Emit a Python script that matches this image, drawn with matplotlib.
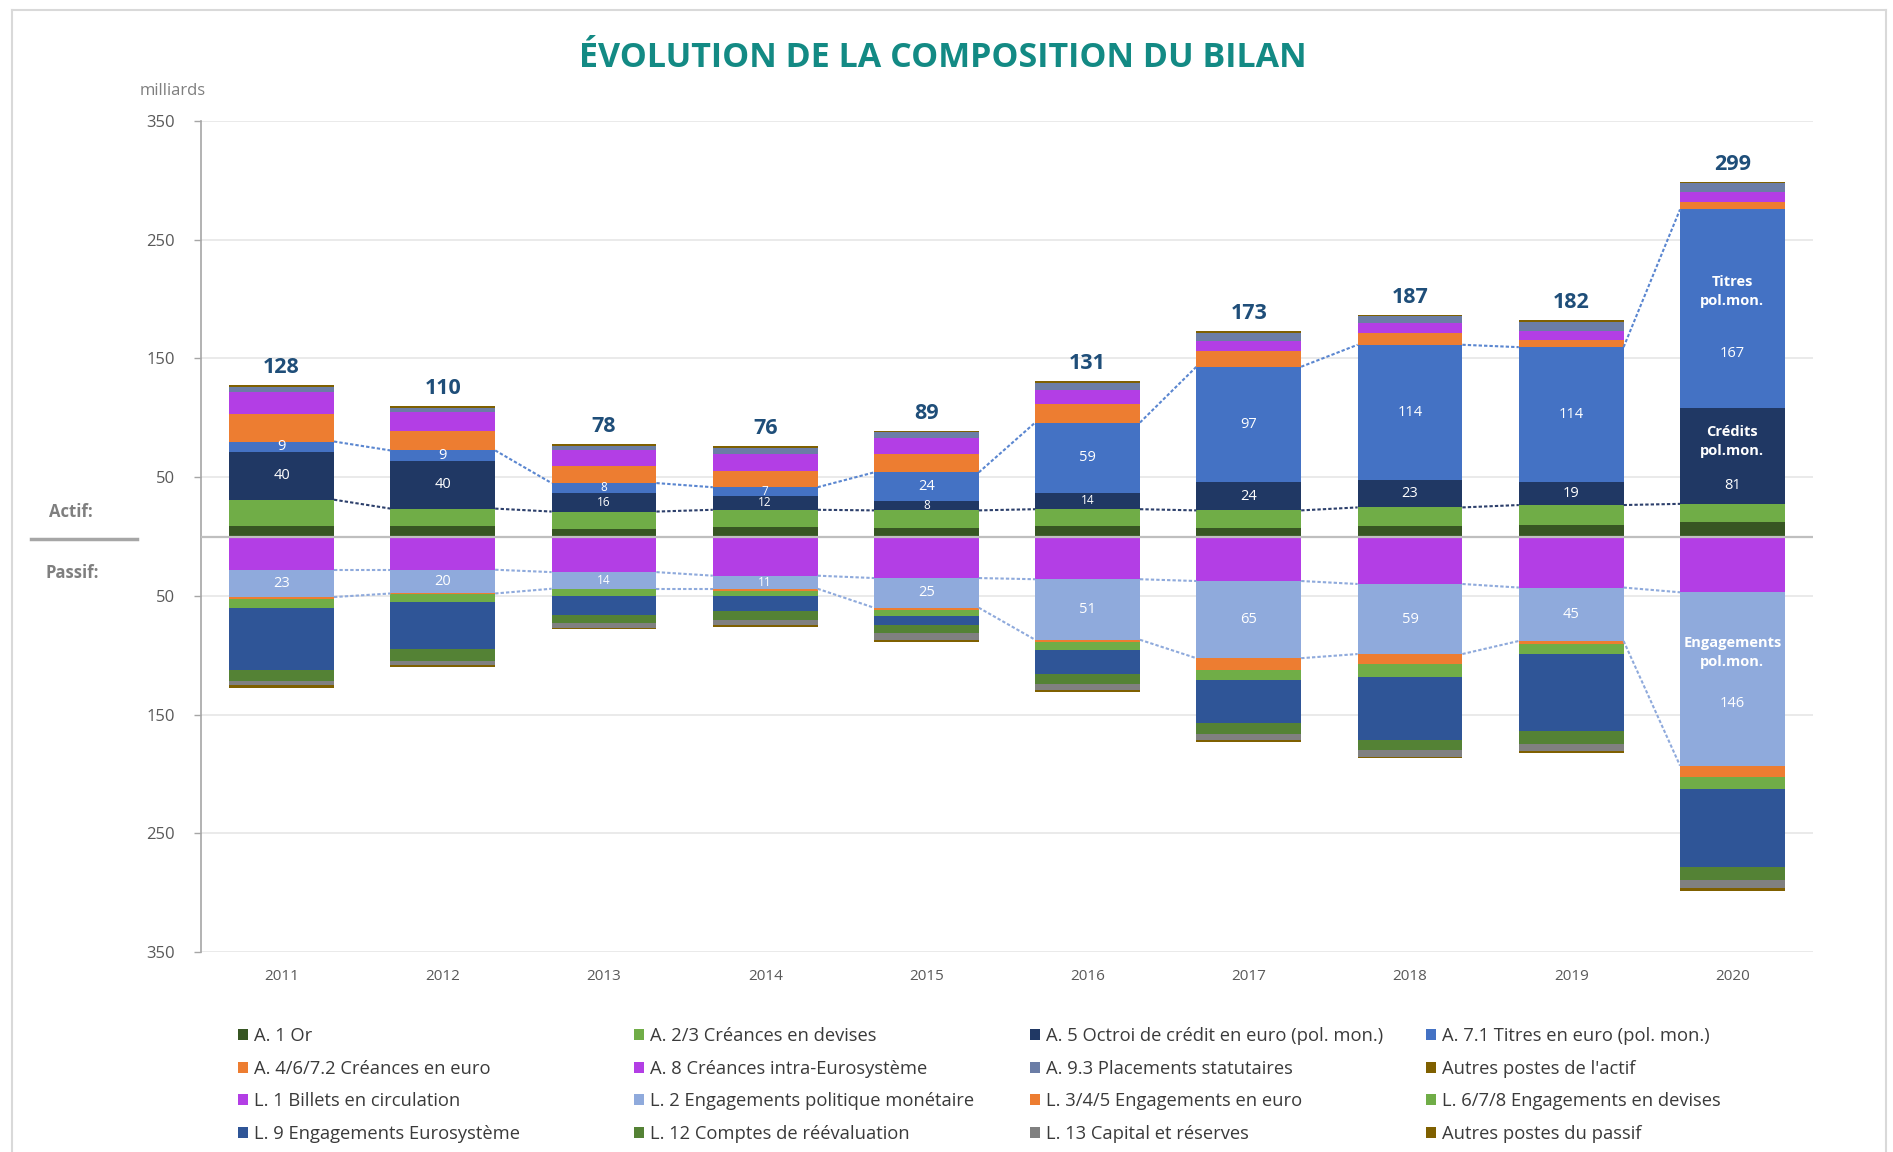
import matplotlib
matplotlib.use("Agg")
import matplotlib.pyplot as plt
import numpy as np
from matplotlib.lines import Line2D

plt.rcParams['font.family'] = ['Open Sans', 'DejaVu Sans']

# ---------------- data (milliards) ----------------
years = ['2011', '2012', '2013', '2014', '2015', '2016', '2017', '2018', '2019', '2020']
totals = [128, 110, 78, 76, 89, 131, 173, 187, 182, 299]

# Actif
a1_or = [9, 9, 6.5, 8, 7, 8.5, 7.5, 8.5, 10, 12]
a23_devises = [22, 14.5, 14.5, 14.5, 15, 14.5, 14.5, 16, 16.5, 15.5]
a5_credit = [40, 40, 16, 12, 8, 14, 24, 23, 19, 81]
a71_titres = [9, 9, 8, 7, 24, 59, 97, 114, 114, 167]
a4_euro = [23, 16, 14, 14, 15.5, 15.5, 13, 10, 6, 6]
a8_intra = [19, 16, 13.5, 14, 13.5, 12, 9, 8.5, 8, 8.5]
a93_placements = [4, 4, 4, 5, 5, 5.5, 6, 5.5, 7, 7.5]
a_autres = [2, 1.5, 1.5, 1.5, 1, 2, 2, 1.5, 1.5, 1.5]

# Passif
l1_billets = [28, 28, 30, 33, 35, 36, 37.5, 40, 43, 47]
l2_polmon = [23, 20, 14, 11, 25, 51, 65, 59, 45, 146]
l345_euro = [1.5, 0.5, 0.5, 1.5, 1.5, 2, 10, 8.5, 2.5, 10]
l678_devises = [8, 7, 5.5, 4.5, 5.5, 7, 8.5, 10.5, 8.5, 10]
l9_eurosys = [52, 39, 16, 13, 7.5, 19.5, 36.5, 53, 65, 65.5]
l12_reeval = [9, 10, 7, 7.5, 7, 8.5, 8.5, 8.5, 10.5, 11]
l13_capital = [4, 4, 4, 4, 6, 5.5, 5.5, 6, 6, 7]
l_autres = [2.5, 1.5, 1, 1.5, 1.5, 1.5, 1.5, 1.5, 1.5, 2.5]

yticks = [-350, -250, -150, -50, 50, 150, 250, 350]

# ---------------- styling ----------------
C_OR = '#375623'
C_GREEN = '#70AD47'
C_NAVY = '#203864'
C_BLUE = '#4472C4'
C_ORANGE = '#ED7D31'
C_PURPLE = '#B33EE5'
C_SLATE = '#6B7DA6'
C_BROWN = '#7F6000'
C_LBLUE = '#8FAADC'
C_L9 = '#2F5597'
C_L12 = '#548235'
C_GRAY = '#808080'

actif = [
    (a1_or, C_OR, 'A. 1 Or'),
    (a23_devises, C_GREEN, 'A. 2/3 Créances en devises'),
    (a5_credit, C_NAVY, 'A. 5 Octroi de crédit en euro (pol. mon.)'),
    (a71_titres, C_BLUE, 'A. 7.1 Titres en euro (pol. mon.)'),
    (a4_euro, C_ORANGE, 'A. 4/6/7.2 Créances en euro'),
    (a8_intra, C_PURPLE, 'A. 8 Créances intra-Eurosystème'),
    (a93_placements, C_SLATE, 'A. 9.3 Placements statutaires'),
    (a_autres, C_BROWN, "Autres postes de l'actif"),
]
passif = [
    (l1_billets, C_PURPLE, 'L. 1 Billets en circulation'),
    (l2_polmon, C_LBLUE, 'L. 2 Engagements politique monétaire'),
    (l345_euro, C_ORANGE, 'L. 3/4/5 Engagements en euro'),
    (l678_devises, C_GREEN, 'L. 6/7/8 Engagements en devises'),
    (l9_eurosys, C_L9, 'L. 9 Engagements Eurosystème'),
    (l12_reeval, C_L12, 'L. 12 Comptes de réévaluation'),
    (l13_capital, C_GRAY, 'L. 13 Capital et réserves'),
    (l_autres, C_BROWN, 'Autres postes du passif'),
]

W, H = 1893, 1152
fig = plt.figure(figsize=(W / 100, H / 100), dpi=100)
fig.patch.set_facecolor('white')

ax_l, ax_r, ax_t, ax_b = 201, 1813, 121, 952
ax = fig.add_axes([ax_l / W, 1 - ax_b / H, (ax_r - ax_l) / W, (ax_b - ax_t) / H])

n = len(years)
x = np.arange(n)
w = 0.65

handles = {}
bottom = np.zeros(n)
for vals, col, lab in actif:
    v = np.array(vals, dtype=float)
    b = ax.bar(x, v, w, bottom=bottom, color=col, linewidth=0, zorder=2)
    handles[lab] = b
    bottom += v

bottom = np.zeros(n)
for vals, col, lab in passif:
    v = -np.array(vals, dtype=float)
    b = ax.bar(x, v, w, bottom=bottom, color=col, linewidth=0, zorder=2)
    handles[lab] = b
    bottom += v

# connector (series) lines
lvl_dark = np.array(a1_or) + np.array(a23_devises)
lvl_light = lvl_dark + np.array(a5_credit) + np.array(a71_titres)
lvl_p1 = -np.array(l1_billets, dtype=float)
lvl_p2 = lvl_p1 - np.array(l2_polmon)
for lvl, col in [(lvl_dark, '#2C3F6B'), (lvl_light, '#5A86D0'),
                 (lvl_p1, '#8FAADC'), (lvl_p2, '#8FAADC')]:
    for i in range(n - 1):
        ax.plot([x[i] + w / 2, x[i + 1] - w / 2], [lvl[i], lvl[i + 1]],
                color=col, lw=1.5, ls=(0, (1.6, 1.0)), zorder=3)

# zero line
ax.axhline(0, color='#BFBFBF', lw=1.6, zorder=4)

# totals
for i, t in enumerate(totals):
    top = sum(s[0][i] for s in actif)
    ax.annotate(str(t), (x[i], top), xytext=(0, 8.6), textcoords='offset points',
                ha='center', va='baseline', fontsize=15.5, fontweight='bold',
                color='#1F4E79', zorder=5)

# inside labels
cum_a5 = lvl_dark + np.array(a5_credit) / 2
cum_a71 = lvl_dark + np.array(a5_credit) + np.array(a71_titres) / 2
cum_l2 = lvl_p1 - np.array(l2_polmon) / 2
for i in range(n - 1):
    for val, yc in [(a5_credit[i], cum_a5[i]), (a71_titres[i], cum_a71[i]), (l2_polmon[i], cum_l2[i])]:
        fs = 10.5 if (val >= 18 or i < 2) else 8.5
        ax.text(x[i], yc, f'{val:g}', ha='center', va='center', color='white',
                fontsize=fs, zorder=5)

j = n - 1
specials = [
    ('Titres\npol.mon.', a71_titres[j], cum_a71[j], 14, -38),
    ('Crédits\npol.mon.', a5_credit[j], cum_a5[j], 12, -25),
    ('Engagements\npol.mon.', l2_polmon[j], cum_l2[j], 22, -21),
]
for txt, val, yc, off_t, off_v in specials:
    ax.text(x[j], yc + off_t, txt, ha='center', va='center', color='white',
            fontsize=10.5, fontweight='bold', linespacing=1.45, zorder=5)
    ax.text(x[j], yc + off_v, f'{val:g}', ha='center', va='center', color='white',
            fontsize=10.5, zorder=5)

# axes styling
ax.set_xlim(-0.5, n - 0.5)
ax.set_ylim(-350, 350)
ax.set_yticks(yticks)
ax.set_yticklabels([str(abs(v)) for v in yticks])
ax.set_xticks(x)
ax.set_xticklabels(years)
ax.yaxis.grid(True, color='#E8E8E8', lw=1.3, zorder=0)
ax.set_axisbelow(True)
for s in ['top', 'right', 'bottom']:
    ax.spines[s].set_visible(False)
ax.spines['left'].set_color('#A6A6A6')
ax.spines['left'].set_linewidth(1.2)
ax.tick_params(axis='y', length=5, color='#A6A6A6', labelcolor='#595959',
               labelsize=12, pad=14, width=1)
ax.tick_params(axis='x', length=0, labelcolor='#595959', labelsize=11, pad=12)

# titles / annotations
fig.text(943 / W, 1 - 58 / H, 'ÉVOLUTION DE LA COMPOSITION DU BILAN', ha='center', va='center',
         fontsize=24.5, fontweight='bold', color='#138A84')
fig.text(173 / W, 1 - 91 / H, 'milliards', ha='center', va='center', fontsize=12, color='#7F7F7F')
fig.text(71 / W, 1 - 512 / H, 'Actif:', ha='center', va='center', fontsize=12,
         fontweight='bold', color='#7F7F7F')
fig.text(72 / W, 1 - 573 / H, 'Passif:', ha='center', va='center', fontsize=12,
         fontweight='bold', color='#7F7F7F')
fig.add_artist(Line2D([31 / W, 137 / W], [1 - 539 / H] * 2, transform=fig.transFigure,
                      color='#A6A6A6', lw=2.5))

# outer frame
fc = '#D9D9D9'
fig.add_artist(Line2D([12 / W, 1886 / W], [1 - 10 / H] * 2, transform=fig.transFigure, color=fc, lw=1.5))
fig.add_artist(Line2D([12 / W] * 2, [0, 1 - 10 / H], transform=fig.transFigure, color=fc, lw=1.5))
fig.add_artist(Line2D([1886 / W] * 2, [0, 1 - 10 / H], transform=fig.transFigure, color=fc, lw=1.5))

# legend: 4 columns, row-major order as in reference
rows = [
    ['A. 1 Or', 'A. 2/3 Créances en devises', 'A. 5 Octroi de crédit en euro (pol. mon.)', 'A. 7.1 Titres en euro (pol. mon.)'],
    ['A. 4/6/7.2 Créances en euro', 'A. 8 Créances intra-Eurosystème', 'A. 9.3 Placements statutaires', "Autres postes de l'actif"],
    ['L. 1 Billets en circulation', 'L. 2 Engagements politique monétaire', 'L. 3/4/5 Engagements en euro', 'L. 6/7/8 Engagements en devises'],
    ['L. 9 Engagements Eurosystème', 'L. 12 Comptes de réévaluation', 'L. 13 Capital et réserves', 'Autres postes du passif'],
]
col_x = [238, 634, 1030, 1426]
for c in range(4):
    labs = [rows[r][c] for r in range(4)]
    leg = fig.legend([handles[l] for l in labs], labs, loc='upper left',
                     bbox_to_anchor=(col_x[c] / W, 1 - 1027 / H), frameon=False,
                     fontsize=13.2, handlelength=0.55, handleheight=0.55, handletextpad=0.3,
                     labelspacing=0.8, borderpad=0, borderaxespad=0)
    for t in leg.get_texts():
        t.set_color('#3A3A3A')

fig.savefig('out.png', dpi=100, facecolor='white')
